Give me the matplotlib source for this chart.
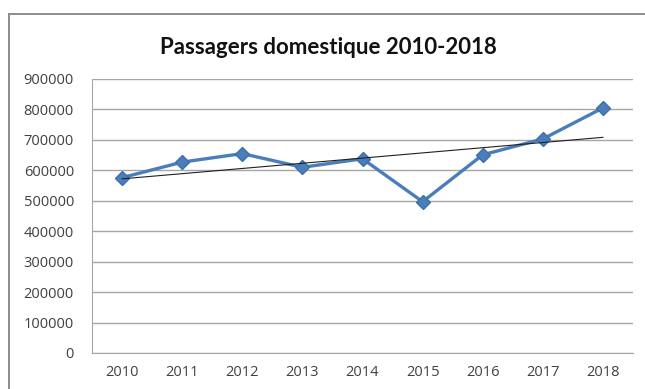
import numpy as np
import matplotlib.pyplot as plt
from matplotlib.lines import Line2D

# Domestic passengers per year
years = ["2010", "2011", "2012", "2013", "2014", "2015", "2016", "2017", "2018"]
passengers = [576000, 627000, 655000, 610000, 638000, 497000, 651000, 703000, 805000]
y_ticks = [0, 100000, 200000, 300000, 400000, 500000, 600000, 700000, 800000, 900000]

plt.rcParams["font.family"] = ["Open Sans", "DejaVu Sans"]

fig = plt.figure(figsize=(6.45, 3.89), dpi=100)
fig.patch.set_facecolor("white")

# Chart-area frame: top and left edges, running off the canvas elsewhere
frame_x = 8.5 / 645
frame_y = 1 - 14 / 389
fig.add_artist(Line2D([frame_x, 1.0], [frame_y, frame_y], transform=fig.transFigure,
                      color="#8c8c8c", linewidth=1.4, solid_capstyle="projecting"))
fig.add_artist(Line2D([frame_x, frame_x], [0.0, frame_y], transform=fig.transFigure,
                      color="#8c8c8c", linewidth=1.4, solid_capstyle="projecting"))

ax = fig.add_axes([92 / 645, 1 - 353 / 389, (633 - 92) / 645, (353 - 79) / 389])
x = np.arange(len(years))

ax.set_xlim(-0.5, len(years) - 0.5)
ax.set_ylim(0, 900000)
ax.set_yticks(y_ticks)
ax.set_yticklabels([str(v) for v in y_ticks], fontsize=10.5, color="#404040")
ax.set_xticks(x)
ax.set_xticklabels(years, fontsize=10.5, color="#404040")
ax.grid(axis="y", color="#a6a6a6", linewidth=1.0)
ax.set_axisbelow(True)
for side in ["top", "right"]:
    ax.spines[side].set_visible(False)
ax.spines["left"].set_color("#a6a6a6")
ax.spines["bottom"].set_color("#a6a6a6")
ax.tick_params(axis="y", length=0, pad=13)
ax.tick_params(axis="x", length=0, pad=9)

# Data series
ax.plot(x, passengers, color="#4a7ebb", linewidth=2.4, marker="D",
        markersize=7, markerfacecolor="#4a7ebb", markeredgecolor="#3f6fa8",
        zorder=3)

# Linear trend line
slope, intercept = np.polyfit(x, passengers, 1)
ax.plot(x[[0, -1]], intercept + slope * x[[0, -1]], color="#202020",
        linewidth=0.8, zorder=4)

fig.text(328 / 645, 1 - 47 / 389, "Passagers domestique 2010-2018",
         ha="center", va="center", fontsize=16, fontweight="bold",
         family=["Lato", "DejaVu Sans"], color="#111111")

fig.savefig("out.png", dpi=100)
